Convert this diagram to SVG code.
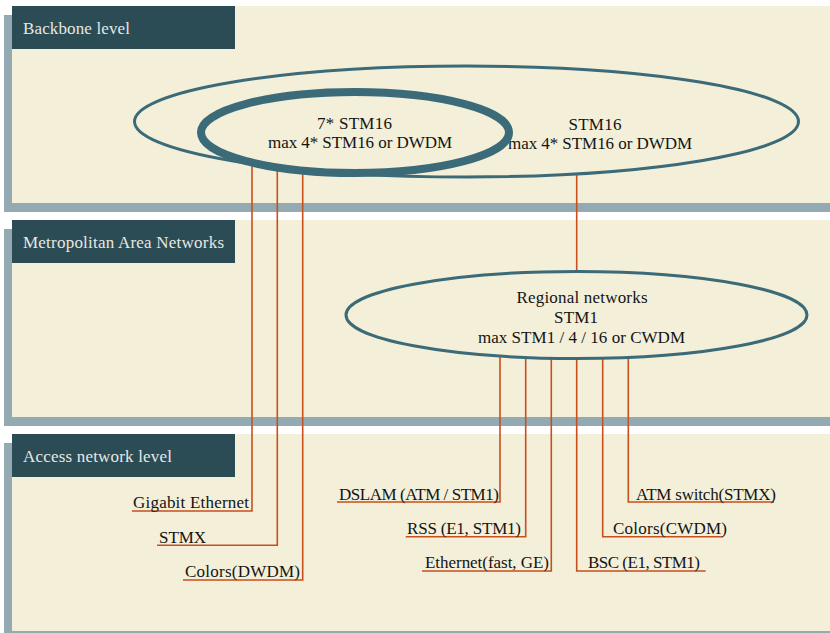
<svg xmlns="http://www.w3.org/2000/svg" width="830" height="633" viewBox="0 0 830 633">
<style>
.shadow{fill:#93aab2}
.panel{fill:#f3efd8}
.hdr{fill:#2b4b55}
.hdrtxt{fill:#e8e8e2;font-family:"Liberation Serif","Times New Roman",serif;font-size:17px}
.txt{fill:#141414;font-family:"Liberation Serif","Times New Roman",serif;font-size:17px}
.ring{fill:none;stroke:#3b6a78}
.conn{fill:none;stroke:#c8501e;stroke-width:1.6}
</style>
<rect width="830" height="633" fill="#ffffff"/>
<g id="backbone-level">
<rect class="shadow" x="4" y="15" width="830" height="197"/>
<rect class="panel" x="12" y="6" width="820" height="197"/>
<rect class="hdr" x="12" y="6" width="223" height="43"/>
<text class="hdrtxt" x="23" y="34" textLength="107">Backbone level</text>
</g>
<g id="metropolitan-level">
<rect class="shadow" x="4" y="229" width="830" height="197"/>
<rect class="panel" x="12" y="220" width="820" height="197"/>
<rect class="hdr" x="12" y="220" width="223" height="43"/>
<text class="hdrtxt" x="23" y="248" textLength="201">Metropolitan Area Networks</text>
</g>
<g id="access-level">
<rect class="shadow" x="4" y="443" width="830" height="200"/>
<rect class="panel" x="12" y="434" width="820" height="197"/>
<rect class="hdr" x="12" y="434" width="223" height="43"/>
<text class="hdrtxt" x="23" y="462" textLength="149">Access network level</text>
</g>
<g id="connectors">
<path class="conn" d="M252,165 V511 H132"/>
<path class="conn" d="M277.3,169 V545.3 H157"/>
<path class="conn" d="M302.7,172 V580 H183"/>
<path class="conn" d="M576.7,175 V270"/>
<path class="conn" d="M500,356 V502 H337"/>
<path class="conn" d="M525.7,358 V536.7 H405.7"/>
<path class="conn" d="M551.3,359 V571 H422"/>
<path class="conn" d="M576.7,359 V571 H705.7"/>
<path class="conn" d="M602.7,359 V536.7 H723"/>
<path class="conn" d="M628.3,358 V502 H774"/>
</g>
<g id="backbone-ring">
<ellipse class="ring" cx="466.5" cy="121.5" rx="332" ry="55.5" stroke-width="3"/>
<text class="txt" x="595" y="130" text-anchor="middle" textLength="53">STM16</text>
<text class="txt" x="600" y="149" text-anchor="middle" textLength="184">max 4* STM16 or DWDM</text>
</g>
<g id="core-ring">
<ellipse class="ring" cx="355" cy="132.5" rx="154" ry="40.5" stroke-width="8"/>
<text class="txt" x="354.5" y="129" text-anchor="middle" textLength="75">7* STM16</text>
<text class="txt" x="360" y="148" text-anchor="middle" textLength="184">max 4* STM16 or DWDM</text>
</g>
<g id="regional-networks">
<ellipse class="ring" cx="576.5" cy="315" rx="230.5" ry="43.5" stroke-width="3"/>
<text class="txt" x="582" y="303" text-anchor="middle" textLength="131">Regional networks</text>
<text class="txt" x="576" y="323" text-anchor="middle" textLength="44">STM1</text>
<text class="txt" x="581.5" y="343" text-anchor="middle" textLength="207">max STM1 / 4 / 16 or CWDM</text>
</g>
<g id="gigabit-ethernet"><text class="txt" x="133" y="508" textLength="116">Gigabit Ethernet</text></g>
<g id="stmx"><text class="txt" x="159" y="543" textLength="47">STMX</text></g>
<g id="colors-dwdm"><text class="txt" x="185" y="577" textLength="115">Colors(DWDM)</text></g>
<g id="dslam"><text class="txt" x="339" y="500" textLength="160">DSLAM (ATM / STM1)</text></g>
<g id="rss"><text class="txt" x="407" y="534" textLength="114">RSS (E1, STM1)</text></g>
<g id="ethernet"><text class="txt" x="425" y="568" textLength="124">Ethernet(fast, GE)</text></g>
<g id="bsc"><text class="txt" x="588" y="568" textLength="112">BSC (E1, STM1)</text></g>
<g id="colors-cwdm"><text class="txt" x="613" y="534" textLength="114">Colors(CWDM)</text></g>
<g id="atm-switch"><text class="txt" x="636" y="500" textLength="140">ATM switch(STMX)</text></g>
</svg>
